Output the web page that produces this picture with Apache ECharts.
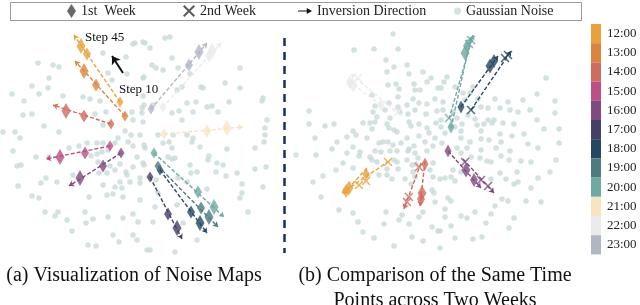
<!DOCTYPE html>
<html><head><meta charset="utf-8">
<script src="https://cdn.jsdelivr.net/npm/echarts@6/dist/echarts.min.js"></script>
<style>html,body{margin:0;padding:0;background:#fff}#c{width:640px;height:305px}</style>
</head><body><div id="c"></div>
<script>
// ---- data (embedding coordinates) ----
const hours = ['12:00','13:00','14:00','15:00','16:00','17:00','18:00','19:00','20:00','21:00','22:00','23:00'];
const palette = ['#E9A23B','#DB843D','#CF6B5F','#BB4F86','#7F4B7E','#463F68','#254762','#4E7B82','#70A8A2','#F8E3C3','#EBEBEB','#B1B6C3'];

// Panel (a): one trajectory per hour
const aHour = [0,1,2,3,4,5,6,7,8,9,10,11];
const aStart = [[120,102],[125,116],[111,124],[110,146],[121,153],[150,177],[160,170],[158,166],[154,153],[164,134],[163,107],[151,109]];
const aEnd = [[74,35],[75,61],[53,105],[46,159],[69,186],[182,239],[207,233],[218,227],[224,217],[243,127],[221,43],[207,43]];
const aDiamonds = [
  [[120,102],[87,54],[81,46]],
  [[125,116],[96,85],[84,71]],
  [[111,124],[84,116],[66,111]],
  [[110,146],[85,153],[60,157]],
  [[121,153],[103,166],[80,178]],
  [[150,177],[168,214],[177,228]],
  [[160,170],[191,212],[200,223]],
  [[158,166],[201,208],[209,217]],
  [[154,153],[198,192],[214,207]],
  [[164,134],[207,131],[227,128]],
  [[163,107],[209,56],[212,51]],
  [[151,109],[189,65],[199,52]]
];

// Panel (b): same time points, 1st week vs 2nd week
const bHour = [0,2,4,6,8,10];
const bW1Start = [[367,168],[425,161],[448,151],[461,107],[451,128],[381,105]];
const bW1End = [[343,194],[420,206],[481,188],[498,56],[471,37],[347,80]];
const bW1Diamonds = [
  [[366,174],[349,188],[346,191]],
  [[425,164],[422,193],[421,199]],
  [[448,151],[466,170],[474,180]],
  [[461,107],[490,66],[494,61]],
  [[451,127],[465,53],[467,46]],
  [[381,105],[353,85],[350,82]]
];
const bW2Start = [[389,161],[421,163],[463,159],[471,110],[449,119],[400,115]];
const bW2End = [[342,193],[404,209],[494,193],[511,51],[473,35],[351,74]];
const bW2Crosses = [
  [[388,162],[366,181],[359,185]],
  [[419,167],[409,197],[407,202]],
  [[465,162],[481,180],[488,186]],
  [[471,110],[505,58],[508,55]],
  [[449,118],[469,44],[471,40]],
  [[398,112],[358,78]]
];

const noiseA = [
[133,44],[126,57],[103,53],[145,43],[135,43],[53,65],[59,67],[108,73],[112,80],[49,78],[143,78],[127,74],
[38,63],[32,86],[48,88],[12,94],[39,94],[63,96],[83,97],[90,99],[100,101],[24,101],
[32,114],[23,115],[95,114],[106,112],[132,112],[142,113],[144,105],
[3,132],[15,132],[44,126],[59,132],[103,125],[133,120],[125,131],[131,135],[118,138],[140,135],[20,138],
[165,38],[170,37],[150,48],[143,42],[172,58],[156,68],[163,70],[152,65],[144,77],[190,74],[178,68],[240,68],
[201,87],[203,88],[225,83],[240,88],[182,87],[177,90],[143,96],[153,105],[187,103],[196,102],[207,107],[212,106],[229,102],[263,98],[262,101],
[142,108],[172,113],[179,111],[193,112],[218,112],[182,120],[143,122],[267,120],[265,128],[173,135],[158,135],[187,135],[193,138],[265,135],
[13,151],[36,157],[69,148],[79,146],[87,143],[97,143],[103,143],[115,143],[128,142],[133,146],[144,145],
[91,156],[97,154],[102,152],[108,150],[17,166],[21,165],[49,157],
[98,162],[110,166],[115,170],[120,164],[126,172],[133,167],[144,165],[137,157],
[73,175],[99,173],[107,173],[127,175],
[18,186],[41,183],[46,178],[57,182],[103,185],[115,187],[130,182],[140,183],[120,182],
[32,196],[39,198],[89,197],[107,195],[113,194],[123,197],[140,200],[122,188],
[45,212],[55,216],[58,212],[85,212],[67,220],[86,223],[93,219],[108,217],[123,218],[133,214],[138,222],
[72,231],[113,235],[133,235],[119,242],[137,240],[88,245],[96,246],
[145,148],[163,143],[169,142],[172,148],[192,142],[200,147],[227,149],[255,148],[264,142],
[143,163],[168,157],[172,159],[175,158],[209,156],[208,160],[217,163],[223,165],[255,169],[266,167],
[190,165],[197,172],[191,173],[216,172],[237,173],[226,176],
[140,178],[156,180],[178,178],[187,182],[242,184],[263,187],[207,189],
[242,193],[240,198],[158,193],[155,207],[177,205],[153,222],[248,212],[183,223],[197,240],[147,250],[150,250],[175,252]
];
const noiseB = [
[393,34],[354,50],[374,49],[398,49],[386,60],[394,67],[407,65],[387,72],[409,74],[423,72],[431,78],
[388,85],[396,84],[399,89],[414,84],[415,90],[420,90],[427,82],[438,88],
[372,95],[398,97],[413,99],[407,105],[419,103],[427,104],[435,99],
[375,106],[389,103],[398,107],[373,112],[377,117],[385,110],[390,118],[400,112],[408,114],[415,110],[426,114],[437,111],
[309,111],[309,124],[325,126],[334,124],[363,123],[370,123],[375,122],[387,124],[389,128],[394,130],[409,122],[411,126],[419,124],[427,128],[429,133],[436,123],
[315,138],[353,131],[347,137],[356,135],[372,129],[367,138],[397,132],[407,138],[419,136],[435,138],
[337,142],[332,149],[353,147],[379,143],[383,142],[388,142],[393,145],[401,143],[409,149],[414,146],[425,142],[433,146],
[296,155],[316,155],[347,153],[360,152],[359,156],[370,157],[375,151],[381,152],[390,151],[397,151],[408,151],[415,153],[418,158],[427,151],
[343,163],[372,160],[377,162],[394,160],[397,162],[407,160],[412,165],[416,164],[433,163],
[336,170],[353,168],[387,169],[398,169],[413,172],[430,170],
[323,176],[368,175],[379,175],[387,175],[392,179],[405,179],[415,177],[433,177],
[313,182],[411,184],[432,190],[434,193],[321,197],[435,202],
[339,210],[353,213],[386,212],[402,215],[419,217],[423,212],
[358,222],[384,224],[399,220],[409,224],[432,227],
[363,232],[374,238],[412,237],[423,241],[438,231],[394,246],
[546,78],[447,77],[444,82],[441,88],[455,87],[473,87],[470,93],[537,94],
[443,102],[463,93],[465,100],[478,99],[495,99],[508,102],[523,100],[555,101],
[443,110],[453,112],[481,107],[488,108],[500,108],[510,110],[518,112],[530,110],[555,113],
[441,120],[457,118],[468,115],[475,119],[488,120],[494,120],[503,123],[514,124],[537,120],
[441,127],[455,127],[462,124],[477,125],[484,124],[492,123],[544,129],[559,129],
[445,133],[461,131],[481,131],[500,134],[512,136],[524,134],
[442,143],[461,138],[470,142],[481,139],[489,140],[501,142],[528,144],[538,148],[559,143],
[457,148],[467,148],[481,150],[496,148],[510,151],
[461,153],[471,157],[480,158],[487,161],[491,162],[501,156],[509,160],[521,161],[531,162],[556,160],
[453,170],[461,172],[500,173],[517,172],[550,172],
[440,179],[445,178],[451,177],[455,181],[491,179],[506,179],[514,184],[518,182],[538,178],
[531,188],[448,198],[451,201],[502,199],[508,201],[526,201],[541,202],
[445,209],[495,206],[445,217],[461,216],[467,218],[475,212],[491,214],[514,218],
[451,226],[486,223],[509,228],[440,231],[455,238],[473,239],[482,237],[440,248]
];
const dividerLine = [[284,38],[284,253]];
const stepArrow = [[123,73],[112,56]];

// ---- build ----
const SERIF = 'Liberation Serif';
const crossPath = 'path://M0,1.2 L1.2,0 L5,3.8 L8.8,0 L10,1.2 L6.2,5 L10,8.8 L8.8,10 L5,6.2 L1.2,10 L0,8.8 L3.8,5 Z';
const arrowPath = 'path://M0,4.3 L10,4.3 L10,1.5 L16,5 L10,8.5 L10,5.7 L0,5.7 Z';

const arrowLines = [];
const diamondData = [];
const crossData = [];
const diaSizeA = [[7,11],[8,13],[9,16]];
const diaSizeB = [[7,13],[9,15],[8,14]];

aHour.forEach((h, i) => {
  arrowLines.push({coords: [aStart[i], aEnd[i]], lineStyle: {color: palette[h]}});
  aDiamonds[i].forEach((p, k) => diamondData.push({value: p, symbolSize: diaSizeA[k], itemStyle: {color: palette[h]}}));
});
bHour.forEach((h, i) => {
  arrowLines.push({coords: [bW1Start[i], bW1End[i]], lineStyle: {color: palette[h]}});
  arrowLines.push({coords: [bW2Start[i], bW2End[i]], lineStyle: {color: palette[h]}});
  bW1Diamonds[i].forEach((p, k) => diamondData.push({value: p, symbolSize: diaSizeB[k], itemStyle: {color: palette[h]}}));
  bW2Crosses[i].forEach((p) => crossData.push({value: p, itemStyle: {color: palette[h]}}));
});

const chart = echarts.init(document.getElementById('c'), null, {renderer: 'canvas'});
const legendText = {fontFamily: SERIF, fontSize: 14, color: '#222'};
function mkLegend(name, left, icon, w, h, color) {
  return {
    left: left, top: 4, padding: 0, selectedMode: false, itemWidth: w, itemHeight: h,
    textStyle: legendText,
    data: [{name: name, icon: icon, itemStyle: {color: color, borderWidth: 0}}]
  };
}

chart.setOption({
  animation: false,
  grid: {left: 0, top: 0, right: 0, bottom: 0},
  xAxis: {type: 'value', min: 0, max: 640, show: false},
  yAxis: {type: 'value', min: 0, max: 305, inverse: true, show: false},
  legend: [
    mkLegend('1st  Week', 67, 'diamond', 9, 14, '#444'),
    mkLegend('2nd Week', 183, crossPath, 12, 12, '#333'),
    mkLegend('Inversion Direction', 298, arrowPath, 14, 9, '#111'),
    mkLegend('Gaussian Noise', 454, 'circle', 7, 7, '#C8DBDA')
  ],
  visualMap: {
    type: 'piecewise', seriesIndex: 6, orient: 'vertical', inverse: true,
    left: 591, top: 24, padding: 0, itemWidth: 10, itemHeight: 19.2, itemGap: 0,
    itemSymbol: 'rect', align: 'left', textGap: 6, selectedMode: false, hoverLink: false,
    textStyle: {fontFamily: SERIF, fontSize: 13, color: '#222'},
    pieces: hours.map((t, i) => ({value: i, label: t, color: palette[i]}))
  },
  graphic: [
    {type: 'rect', shape: {x: 10.5, y: 2.5, width: 571, height: 18}, style: {fill: 'none', stroke: '#9a9a9a', lineWidth: 1}, z: 0},
    {type: 'text', x: 85, y: 38, style: {text: 'Step 45', font: '13px "Liberation Serif"', fill: '#111', textVerticalAlign: 'middle'}},
    {type: 'text', x: 119, y: 90, style: {text: 'Step 10', font: '13px "Liberation Serif"', fill: '#111', textVerticalAlign: 'middle'}},
    {type: 'text', x: 134, y: 276, style: {text: '(a) Visualization of Noise Maps', font: '20px "Liberation Serif"', fill: '#111', textAlign: 'center', textVerticalAlign: 'middle'}},
    {type: 'text', x: 435, y: 276, style: {text: '(b) Comparison of the Same Time', font: '20px "Liberation Serif"', fill: '#111', textAlign: 'center', textVerticalAlign: 'middle'}},
    {type: 'text', x: 435, y: 301, style: {text: 'Points across Two Weeks', font: '20px "Liberation Serif"', fill: '#111', textAlign: 'center', textVerticalAlign: 'middle'}}
  ],
  series: [
    {name: 'Gaussian Noise', type: 'scatter', symbol: 'circle', symbolSize: 5.5, silent: true, z: 1,
     itemStyle: {color: '#C8DBDA'}, data: noiseA.concat(noiseB)},
    {name: 'Inversion Direction', type: 'lines', coordinateSystem: 'cartesian2d', silent: true, z: 2,
     symbol: ['none', 'arrow'], symbolSize: 5,
     lineStyle: {width: 1.4, type: [4, 2], opacity: 1}, data: arrowLines},
    {name: '1st  Week', type: 'scatter', symbol: 'diamond', silent: true, z: 3,
     itemStyle: {color: '#444'}, data: diamondData},
    {name: '2nd Week', type: 'scatter', symbol: crossPath, symbolSize: 9, silent: true, z: 3,
     itemStyle: {color: '#333'}, data: crossData},
    {name: 'divider', type: 'lines', coordinateSystem: 'cartesian2d', silent: true, z: 2,
     lineStyle: {color: '#1B2B6B', width: 2.5, type: [8, 6], opacity: 1}, data: [{coords: dividerLine}]},
    {name: 'step', type: 'lines', coordinateSystem: 'cartesian2d', silent: true, z: 4,
     symbol: ['none', 'arrow'], symbolSize: 8,
     lineStyle: {color: '#111', width: 2, type: 'solid', opacity: 1}, data: [{coords: stepArrow}]},
    {name: 'colorbar', type: 'scatter', data: [], silent: true}
  ]
});
</script></body></html>
